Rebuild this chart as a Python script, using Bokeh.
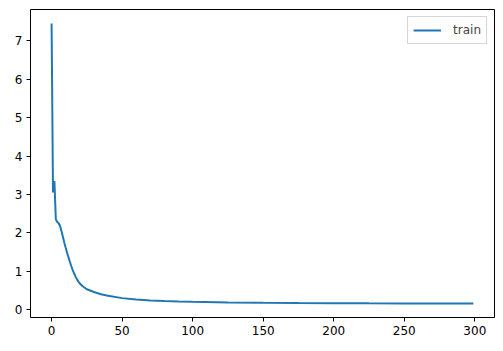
from bokeh.plotting import figure
from bokeh.models import Range1d, FixedTicker, Legend, LegendItem
from bokeh.embed import file_html
from bokeh.resources import INLINE

epochs = [0, 1, 2, 3, 4, 5, 6, 7, 8, 9, 10, 11, 12, 13, 14, 15, 16, 17, 18, 19, 20,
          22, 25, 30, 35, 40, 50, 60, 70, 80, 90, 100, 125, 150, 175, 200, 225, 250, 275, 299]
train_loss = [7.45, 3.05, 3.35, 2.35, 2.28, 2.25, 2.18, 2.05, 1.90, 1.75, 1.61, 1.48, 1.36,
              1.24, 1.13, 1.03, 0.94, 0.86, 0.79, 0.73, 0.68, 0.61, 0.53, 0.46, 0.40, 0.36,
              0.30, 0.265, 0.24, 0.224, 0.212, 0.203, 0.188, 0.178, 0.172, 0.168, 0.165,
              0.163, 0.161, 0.16]
x_ticks = [0, 50, 100, 150, 200, 250, 300]
y_ticks = [0, 1, 2, 3, 4, 5, 6, 7]

xmin, xmax = min(epochs), max(epochs)
ymin, ymax = min(train_loss), max(train_loss)
xpad = (xmax - xmin) * 0.05
ypad = (ymax - ymin) * 0.05

p = figure(width=503, height=351, output_backend="svg", toolbar_location=None,
           x_range=Range1d(xmin - xpad, xmax + xpad),
           y_range=Range1d(ymin - ypad, ymax + ypad),
           min_border_left=30, min_border_right=9, min_border_top=9, min_border_bottom=34)
p.background_fill_color = "white"
p.border_fill_color = "white"
p.outline_line_color = "black"
p.outline_line_width = 1
p.grid.visible = False

for ax, ticks in ((p.xaxis[0], x_ticks), (p.yaxis[0], y_ticks)):
    ax.ticker = FixedTicker(ticks=ticks)
    ax.axis_line_color = None
    ax.major_tick_line_color = "black"
    ax.major_tick_out = 4
    ax.major_tick_in = 0
    ax.minor_tick_line_color = None
    ax.major_label_text_font = "DejaVu Sans"
    ax.major_label_text_font_size = "12px"
    ax.major_label_text_color = "black"
    ax.major_label_standoff = 4

r = p.line(epochs, train_loss, line_color="#1f77b4", line_width=2)

legend = Legend(items=[LegendItem(label="train", renderers=[r])], location="top_right")
legend.label_text_font = "DejaVu Sans"
legend.label_text_font_size = "12px"
legend.border_line_color = "#cccccc"
legend.border_line_alpha = 0.8
legend.background_fill_alpha = 0.8
legend.padding = 5
legend.margin = 7
legend.glyph_width = 28
legend.glyph_height = 16
legend.label_standoff = 12
legend.label_height = 16
p.add_layout(legend)

open("out.html", "w").write(file_html(p, INLINE))
